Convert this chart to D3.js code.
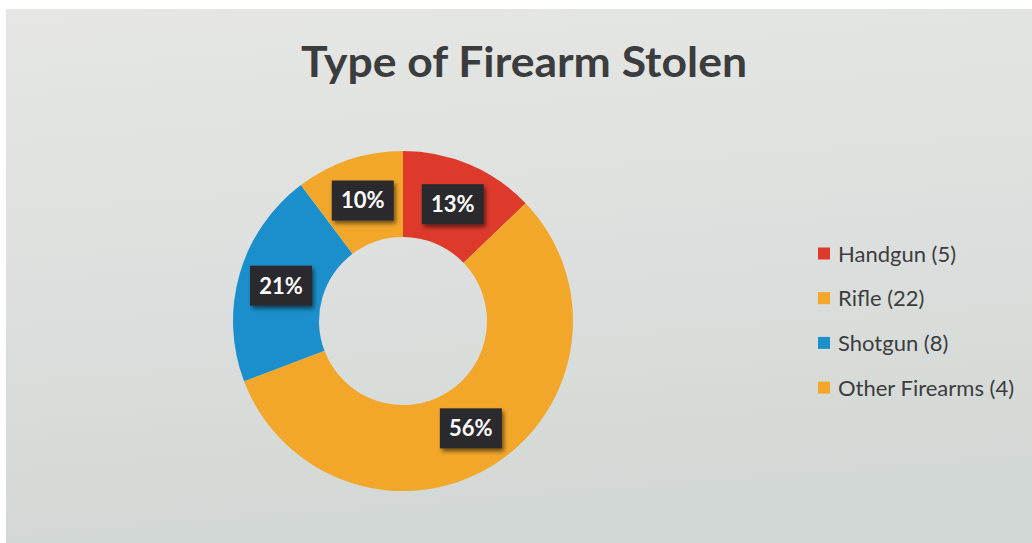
<!DOCTYPE html>
<html>
<head>
<meta charset="utf-8">
<script src="https://cdn.jsdelivr.net/npm/d3@7"></script>
<style>
  html, body { margin: 0; padding: 0; background: #ffffff; }
  svg { display: block; }
</style>
</head>
<body>
<svg id="chart" width="1032" height="543"></svg>
<script>
// Stolen firearm counts by type
const categories = ["Handgun", "Rifle", "Shotgun", "Other Firearms"];
const counts = [5, 22, 8, 4];
const colors = ["#dd3a2b", "#f2a72a", "#1b8fcc", "#f2a72a"];
const titleText = "Type of Firearm Stolen";

const W = 1032, H = 543;
const svg = d3.select("#chart");
const defs = svg.append("defs");

// Page background: soft gray sheet, lighter toward the top
const bg = defs.append("linearGradient").attr("id", "bgGrad")
  .attr("x1", 0).attr("y1", 0).attr("x2", 0.15).attr("y2", 1);
bg.append("stop").attr("offset", "0%").attr("stop-color", "#e6e7e5");
bg.append("stop").attr("offset", "55%").attr("stop-color", "#dcdfdd");
bg.append("stop").attr("offset", "100%").attr("stop-color", "#d2d8d5");

svg.append("rect").attr("width", W).attr("height", H).attr("fill", "#ffffff");
svg.append("rect").attr("x", 6).attr("y", 9).attr("width", W - 6).attr("height", H - 9)
  .attr("fill", "url(#bgGrad)");

// Drop shadow for the data-label boxes
const sh = defs.append("filter").attr("id", "lblShadow")
  .attr("x", "-30%").attr("y", "-30%").attr("width", "170%").attr("height", "170%");
sh.append("feGaussianBlur").attr("in", "SourceAlpha").attr("stdDeviation", 2.2).attr("result", "b");
sh.append("feOffset").attr("in", "b").attr("dx", 2).attr("dy", 3).attr("result", "o");
sh.append("feComponentTransfer").attr("in", "o").attr("result", "s")
  .append("feFuncA").attr("type", "linear").attr("slope", 0.55);
const mg = sh.append("feMerge");
mg.append("feMergeNode").attr("in", "s");
mg.append("feMergeNode").attr("in", "SourceGraphic");

// Title
svg.append("text")
  .attr("x", 524).attr("y", 77)
  .attr("text-anchor", "middle")
  .attr("font-family", "Lato, 'Open Sans', sans-serif")
  .attr("font-weight", 700)
  .attr("font-size", 42)
  .attr("fill", "#3b3c3d")
  .attr("textLength", 446)
  .attr("lengthAdjust", "spacingAndGlyphs")
  .text(titleText);

// Doughnut
const cx = 403, cy = 321, rOuter = 170, rInner = 84;
const total = d3.sum(counts);
const data = categories.map((c, i) => ({ name: c, value: counts[i], color: colors[i] }));

const pie = d3.pie().value(d => d.value).sort(null);
const arcs = pie(data);
const arc = d3.arc().innerRadius(rInner).outerRadius(rOuter);
const labelArc = d3.arc().innerRadius((rInner + rOuter) / 2).outerRadius((rInner + rOuter) / 2);

const g = svg.append("g").attr("transform", `translate(${cx},${cy})`);
g.selectAll("path.slice")
  .data(arcs)
  .join("path")
  .attr("class", "slice")
  .attr("d", arc)
  .attr("fill", d => d.data.color);

// Percentage labels in dark boxes
const fmt = d => Math.round(d.data.value / total * 100) + "%";
const lbl = g.selectAll("g.lbl")
  .data(arcs)
  .join("g")
  .attr("class", "lbl")
  .attr("transform", d => {
    const [x, y] = labelArc.centroid(d);
    return `translate(${x},${y})`;
  });
lbl.append("rect")
  .attr("x", -31).attr("y", -20).attr("width", 62).attr("height", 40)
  .attr("fill", "#2b2c2d")
  .attr("filter", "url(#lblShadow)");
lbl.append("text")
  .attr("text-anchor", "middle")
  .attr("dy", "0.36em")
  .attr("font-family", "Lato, 'Open Sans', sans-serif")
  .attr("font-weight", 700)
  .attr("font-size", 22)
  .attr("fill", "#ffffff")
  .text(fmt);

// Legend
const legend = svg.append("g").attr("transform", "translate(818,254)");
const rowStep = 44.7;
const item = legend.selectAll("g.item")
  .data(data)
  .join("g")
  .attr("class", "item")
  .attr("transform", (d, i) => `translate(0,${i * rowStep})`);
item.append("rect")
  .attr("x", 0).attr("y", -6.5).attr("width", 12).attr("height", 12)
  .attr("fill", d => d.color);
item.append("text")
  .attr("x", 20).attr("dy", "0.35em")
  .attr("font-family", "Lato, 'Open Sans', sans-serif")
  .attr("font-size", 22)
  .attr("fill", "#3c3d3e")
  .text(d => `${d.name} (${d.value})`);
</script>
</body>
</html>
